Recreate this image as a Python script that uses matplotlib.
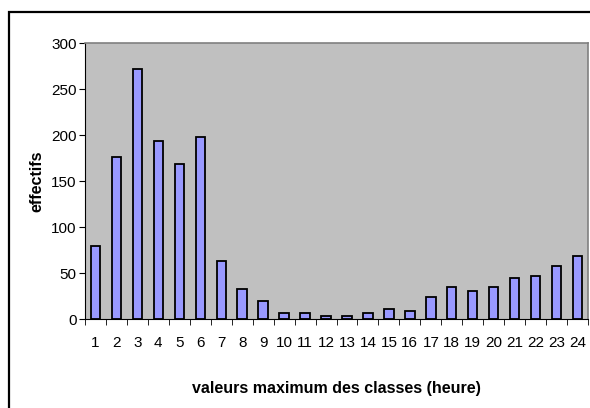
import matplotlib.pyplot as plt
from matplotlib.patches import Rectangle

plt.rcParams["font.family"] = ["Liberation Sans", "DejaVu Sans"]

# class upper bounds (hours) and counts
heures = list(range(1, 25))
effectifs = [80, 176, 272, 194, 169, 198, 63, 33, 20, 7, 7, 4,
             4, 7, 11, 9, 24, 35, 31, 35, 45, 47, 58, 69]

fig = plt.figure(figsize=(5.9, 4.08), dpi=100)
ax = fig.add_axes([85 / 590, 1 - 319.3 / 408, 503 / 590, 276 / 408])

# chart frame around everything
fig.patches.append(Rectangle((9 / 590, -0.1), 1.2, 0.1 + 1 - 12 / 408,
                             transform=fig.transFigure, fill=False,
                             edgecolor="black", linewidth=1.6))

ax.set_facecolor("#C0C0C0")
x = [h - 1 for h in heures]
ax.bar(x, effectifs, width=0.45, color="#9999FF", edgecolor="black", linewidth=1.3)

ax.set_xlim(-0.5, len(heures) - 0.5)
ax.set_ylim(0, 300)
ax.set_yticks(range(0, 301, 50))
ax.set_xticks(x)
ax.set_xticklabels([str(h) for h in heures])
ax.set_xticks([i - 0.5 for i in range(len(heures) + 1)], minor=True)
ax.tick_params(axis="x", which="major", length=0, pad=12, labelsize=11)
ax.tick_params(axis="x", which="minor", length=4, direction="out", color="black")
ax.tick_params(axis="y", length=4, direction="out", labelsize=11, pad=2)

for side in ["top", "right"]:
    ax.spines[side].set_color("#808080")
    ax.spines[side].set_linewidth(1.2)
ax.spines["left"].set_color("black")
ax.spines["bottom"].set_color("black")

ax.set_xlabel("valeurs maximum des classes (heure)", fontsize=11.5,
              fontweight="bold", labelpad=22)
ax.set_ylabel("effectifs", fontsize=11.5, fontweight="bold", labelpad=5)

fig.savefig("out.png", dpi=100)
